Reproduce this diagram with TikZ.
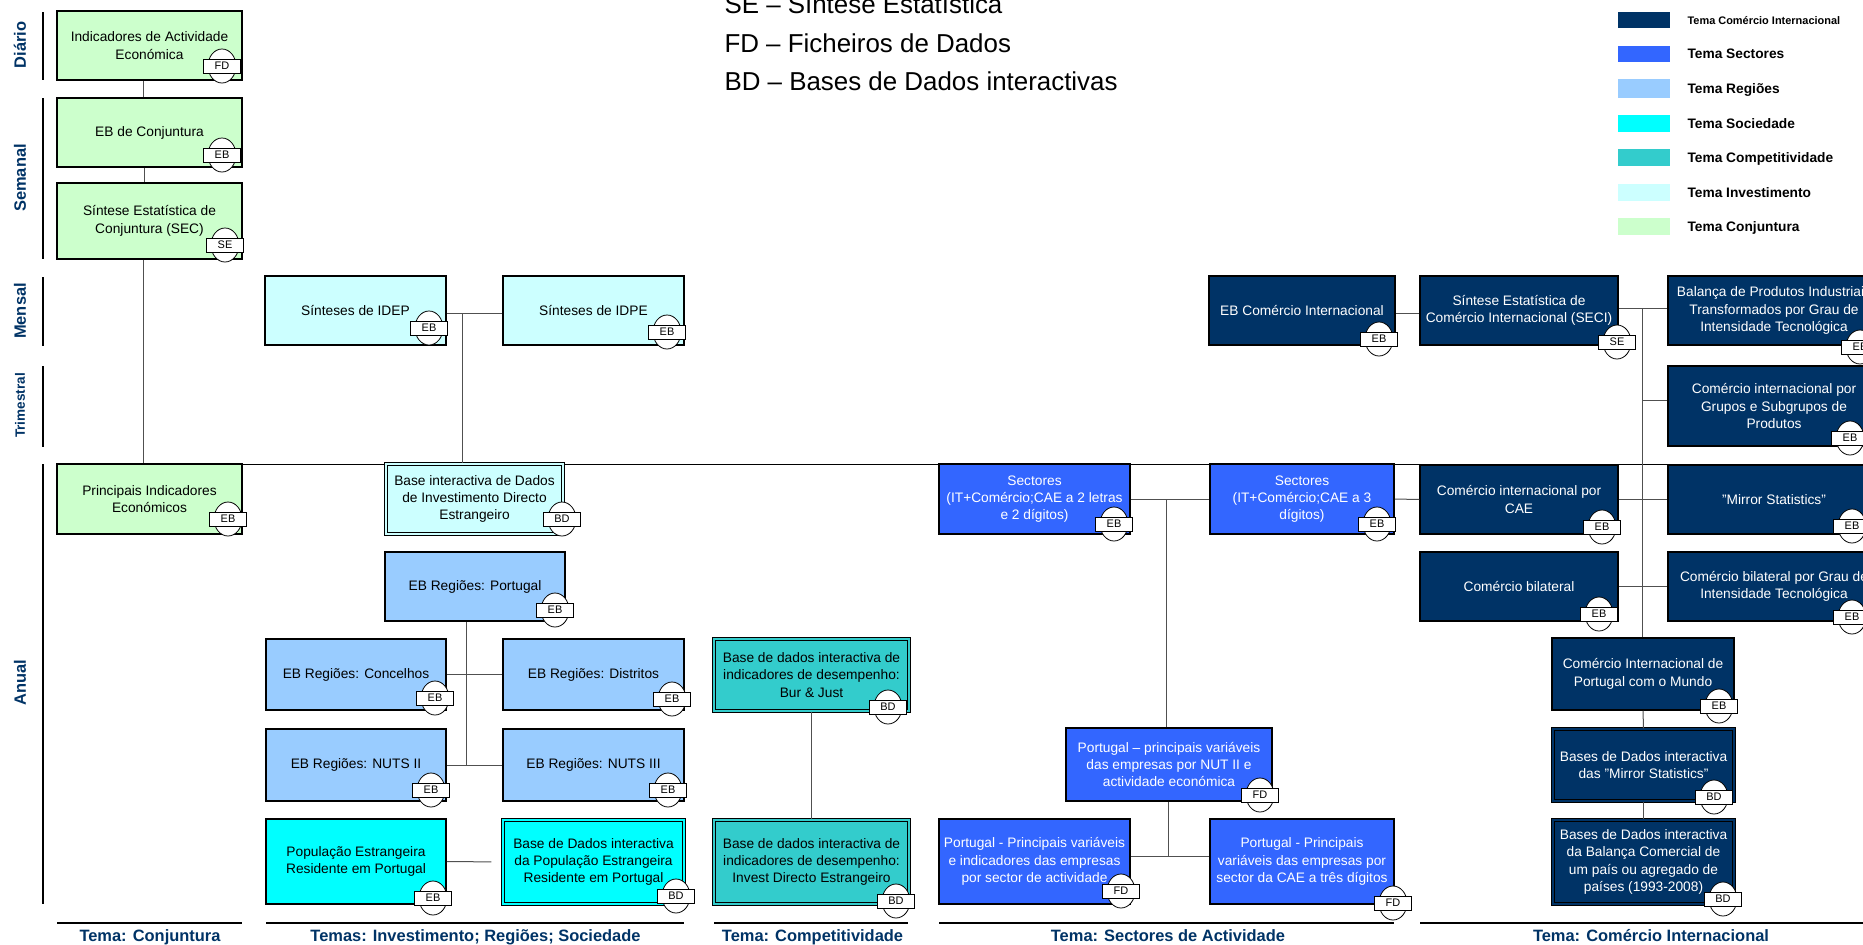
\documentclass[tikz,border=0pt]{standalone}
\usepackage{fontspec}
\setmainfont{Liberation Sans}
\usetikzlibrary{shapes.geometric,calc}
\definecolor{cic}{HTML}{003366}
\definecolor{sectc}{HTML}{3366FF}
\definecolor{regc}{HTML}{99CCFF}
\definecolor{socc}{HTML}{00FFFF}
\definecolor{compc}{HTML}{33CCCC}
\definecolor{invc}{HTML}{CCFFFF}
\definecolor{cjc}{HTML}{CCFFCC}
\definecolor{lblc}{HTML}{003366}
\definecolor{connc}{HTML}{505050}
\newcommand\badge[3]{\node[bell] at (#1) {};\node[btag] (#2) at (#1) {#3};}
\begin{document}
\begin{tikzpicture}[x=1bp,y=-1bp,
  box/.style={draw=black, line width=1.5bp, align=center, inner sep=0pt, font=\fontsize{13.8}{17.4}\selectfont},
  dbox/.style={box, line width=1.1bp, double=#1, double distance=2.2bp, fill=#1},
  wt/.style={text=white},
  conn/.style={draw=connc, line width=1bp},
  divline/.style={draw=black, line width=1bp},
  freqline/.style={draw=black, line width=1.2bp},
  baseline/.style={draw=black, line width=1.6bp},
  freqlbl/.style={rotate=90, text=lblc, font=\bfseries\fontsize{16.5}{16.5}\selectfont},
  temalbl/.style={anchor=base, text=lblc, font=\bfseries\fontsize{16.5}{16.5}\selectfont},
  bell/.style={ellipse, draw=black, fill=white, line width=0.8bp, minimum width=28bp, minimum height=34bp, inner sep=0pt},
  btag/.style={rectangle, draw=black, fill=white, line width=0.8bp, minimum width=37bp, minimum height=14bp, inner sep=0pt, font=\fontsize{11}{11}\selectfont},
  swatch/.style={draw=none},
  leglbl/.style={anchor=base west, font=\bfseries\fontsize{13.8}{13.8}\selectfont},
  abbr/.style={anchor=base west, font=\fontsize{26}{26}\selectfont}
]
\useasboundingbox (0,0) rectangle (1863,944);
\clip (0,0) rectangle (1863,944);
\fill[white] (0,0) rectangle (1863,944);

% divider between Trimestral and Anual
\draw[divline] (242,464) -- (1863,464);

% frequency lines and labels
\draw[freqline] (43,12) -- (43,80);
\draw[freqline] (43,98) -- (43,259);
\draw[freqline] (43,277) -- (43,346);
\draw[freqline] (43,366) -- (43,447);
\draw[freqline] (43,464) -- (43,904);
\node[freqlbl] (fD) at (20,45) {Diário};
\node[freqlbl] (fS) at (20,178) {Semanal};
\node[freqlbl] (fM) at (20,311) {Mensal};
\node[freqlbl, font=\bfseries\fontsize{13.6}{13.6}\selectfont] (fT) at (20,405.5) {Trimestral};
\node[freqlbl] (fA) at (20,683) {Anual};

% abbreviations legend
\node[abbr] (aSE) at (721,13) {SE – Síntese Estatística};
\node[abbr] (aFD) at (721,52) {FD – Ficheiros de Dados};
\node[abbr] (aBD) at (721,90) {BD – Bases de Dados interactivas};

% colour legend
\fill[cic]   (1618,12) rectangle (1670,28);
\fill[sectc] (1618,46) rectangle (1670,62);
\fill[regc]  (1618,79) rectangle (1670,98);
\fill[socc]  (1618,115) rectangle (1670,132);
\fill[compc] (1618,149) rectangle (1670,166);
\fill[invc]  (1618,184) rectangle (1670,201);
\fill[cjc]   (1618,218) rectangle (1670,235);
\node[leglbl, font=\bfseries\fontsize{11}{11}\selectfont] (l1) at (1684,24) {Tema Comércio Internacional};
\node[leglbl] (l2) at (1684,58.5) {Tema Sectores};
\node[leglbl] (l3) at (1684,93) {Tema Regiões};
\node[leglbl] (l4) at (1684,128) {Tema Sociedade};
\node[leglbl] (l5) at (1684,162) {Tema Competitividade};
\node[leglbl] (l6) at (1684,197) {Tema Investimento};
\node[leglbl] (l7) at (1684,231) {Tema Conjuntura};

% ---- Conjuntura
\node[box, fill=cjc, minimum width=185bp, minimum height=69bp] (ind) at (149.5,45.5) {Indicadores de Actividade\\Económica};
\node[box, fill=cjc, minimum width=185bp, minimum height=69bp] (ebc) at (149.5,132.5) {EB de Conjuntura};
\node[box, fill=cjc, minimum width=185bp, minimum height=76bp] (sec) at (149.5,221) {Síntese Estatística de\\Conjuntura (SEC)};
\node[box, fill=cjc, minimum width=185bp, minimum height=70bp] (pie) at (149.5,499) {Principais Indicadores\\Económicos};

% ---- Investimento / Regiões / Sociedade
\node[box, fill=invc, minimum width=181bp, minimum height=69bp] (idep) at (355.5,310.5) {Sínteses de IDEP};
\node[box, fill=invc, minimum width=181bp, minimum height=69bp] (idpe) at (593.5,310.5) {Sínteses de IDPE};
\node[dbox=invc, minimum width=177bp, minimum height=70bp] (bidde) at (474.5,499) {Base interactiva de Dados\\de Investimento Directo\\Estrangeiro};
\node[box, fill=regc, minimum width=180bp, minimum height=69bp] (regpt) at (475,586.5) {EB Regiões: Portugal};
\node[box, fill=regc, minimum width=180bp, minimum height=71bp] (conc) at (356,674.5) {EB Regiões: Concelhos};
\node[box, fill=regc, minimum width=181bp, minimum height=71bp] (dist) at (593.5,674.5) {EB Regiões: Distritos};
\node[box, fill=regc, minimum width=180bp, minimum height=72bp] (nuts2) at (356,765) {EB Regiões: NUTS II};
\node[box, fill=regc, minimum width=181bp, minimum height=72bp] (nuts3) at (593.5,765) {EB Regiões: NUTS III};
\node[box, fill=socc, minimum width=180bp, minimum height=85bp] (pop) at (356,861.5) {População Estrangeira\\Residente em Portugal};
\node[dbox=socc, minimum width=181bp, minimum height=84bp] (bdpop) at (593.5,862) {Base de Dados interactiva\\da População Estrangeira\\Residente em Portugal};

% ---- Competitividade
\node[dbox=compc, minimum width=195bp, minimum height=72bp] (bur) at (811.5,675) {Base de dados interactiva de\\indicadores de desempenho:\\Bur \& Just};
\node[dbox=compc, minimum width=195bp, minimum height=84bp] (ide) at (811.5,862) {Base de dados interactiva de\\indicadores de desempenho:\\Invest Directo Estrangeiro};

% ---- Sectores
\node[box, wt, fill=sectc, minimum width=191bp, minimum height=70bp] (sect1) at (1034.5,499) {Sectores\\(IT+Comércio;CAE a 2 letras\\e 2 dígitos)};
\node[box, wt, fill=sectc, minimum width=184bp, minimum height=70bp] (sect2) at (1302,499) {Sectores\\(IT+Comércio;CAE a 3\\dígitos)};
\node[box, wt, fill=sectc, minimum width=206bp, minimum height=73bp] (nut) at (1169,764.5) {Portugal – principais variáveis\\das empresas por NUT II e\\actividade económica};
\node[box, wt, fill=sectc, minimum width=191bp, minimum height=85bp] (pvi) at (1034.5,861.5) {Portugal - Principais variáveis\\e indicadores das empresas\\por sector de actividade};
\node[box, wt, fill=sectc, minimum width=184bp, minimum height=85bp] (cae3) at (1302,861.5) {Portugal - Principais\\variáveis das empresas por\\sector da CAE a três dígitos};

% ---- Comércio Internacional
\node[box, wt, fill=cic, minimum width=186bp, minimum height=69bp] (ebci) at (1302,310.5) {EB Comércio Internacional};
\node[box, wt, fill=cic, minimum width=198bp, minimum height=69bp] (seci) at (1519,310.5) {Síntese Estatística de\\Comércio Internacional (SECI)};
\node[box, wt, fill=cic, minimum width=198bp, minimum height=69bp] (cae) at (1519,499.5) {Comércio internacional por\\CAE};
\node[box, wt, fill=cic, minimum width=198bp, minimum height=69bp] (bil) at (1519,586.5) {Comércio bilateral};
\node[box, wt, fill=cic, minimum width=212bp, minimum height=69bp] (balanca) at (1774,310.5) {Balança de Produtos Industriais\\Transformados por Grau de\\Intensidade Tecnológica};
\node[box, wt, fill=cic, minimum width=212bp, minimum height=80bp] (grupos) at (1774,406) {Comércio internacional por\\Grupos e Subgrupos de\\Produtos};
\node[box, wt, fill=cic, minimum width=212bp, minimum height=69bp] (mirror) at (1774,499.5) {"Mirror Statistics"};
\node[box, wt, fill=cic, minimum width=212bp, minimum height=69bp] (bilgrau) at (1774,586.5) {Comércio bilateral por Grau de\\Intensidade Tecnológica};
\node[box, wt, fill=cic, minimum width=182bp, minimum height=72bp] (mundo) at (1643,674) {Comércio Internacional de\\Portugal com o Mundo};
\node[dbox=cic, wt, minimum width=181bp, minimum height=72bp] (mirbd) at (1643.5,765) {Bases de Dados interactiva\\das "Mirror Statistics"};
\node[dbox=cic, wt, minimum width=181bp, minimum height=84bp] (balbd) at (1643.5,862) {Bases de Dados interactiva\\da Balança Comercial de\\um país ou agregado de\\países (1993-2008)};

% ---- connectors
\draw[conn] ([xshift=-6.5bp]ind.south) -- ([xshift=-6.5bp]ebc.north);
\draw[conn] ([xshift=-5.5bp]ebc.south) -- ([xshift=-5.5bp]sec.north);
\draw[conn] ([xshift=-6.5bp]sec.south) -- ([xshift=-6.5bp]pie.north);

\coordinate (jA) at (462,313);
\draw[conn] ([yshift=-2.5bp]idep.east) -- ([yshift=-2.5bp]idpe.west);
\draw[conn] (jA) -- (jA |- bidde.north);

\coordinate (jB) at (466.5,765);
\draw[conn] (jB |- regpt.south) -- (jB);
\draw[conn] (conc.east) -- (dist.west);
\draw[conn] (nuts2.east) -- (nuts3.west);
\draw[conn, shorten >=11bp] (pop.east) -- (bdpop.west);
\draw[conn] (bur.south) -- (ide.north);

\draw[conn] ([yshift=-2.5bp]ebci.east) -- ([yshift=-2.5bp]seci.west);
\draw[conn] (sect1.east) -- (sect2.west);
\coordinate (jC) at (1166,499);
\draw[conn] (jC) -- (jC |- nut.north);
\draw[conn] (sect2.east) -- (cae.west);
\coordinate (jD) at (1168,856);
\draw[conn] (nut.south -| jD) -- (jD);
\draw[conn] (pvi.east |- jD) -- (cae3.west |- jD);

\coordinate (jE) at (1642,308);
\coordinate (jF) at (1642,400);
\draw[conn] (seci.east |- jE) -- (balanca.west |- jE);
\draw[conn] (jE) -- (jE |- mundo.north);
\draw[conn] (jF) -- (grupos.west |- jF);
\draw[conn] (cae.east) -- (mirror.west);
\draw[conn] (bil.east) -- (bilgrau.west);
\draw[conn] (mundo.south) -- (mirbd.north);
\draw[conn] (mirbd.south) -- (balbd.north);

% ---- badges
\badge{222,66}{b1}{FD}
\badge{222,155}{b2}{EB}
\badge{225,245}{b3}{SE}
\badge{228,519}{b4}{EB}
\badge{429,328}{b5}{EB}
\badge{667,332}{b6}{EB}
\badge{562,519}{b7}{BD}
\badge{555,610}{b8}{EB}
\badge{435,698}{b9}{EB}
\badge{672,699}{b10}{EB}
\badge{431,790}{b11}{EB}
\badge{668,790}{b12}{EB}
\badge{433,898}{b13}{EB}
\badge{676,896}{b14}{BD}
\badge{888,707}{b15}{BD}
\badge{896,901}{b16}{BD}
\badge{1379,339}{b17}{EB}
\badge{1114,524}{b18}{EB}
\badge{1377,524}{b19}{EB}
\badge{1260,795}{b20}{FD}
\badge{1121,891}{b21}{FD}
\badge{1393,903}{b22}{FD}
\badge{1617,342}{b23}{SE}
\badge{1602,527}{b24}{EB}
\badge{1599,614}{b25}{EB}
\badge{1719,706}{b26}{EB}
\badge{1714,797}{b27}{BD}
\badge{1723,899}{b28}{BD}
\badge{1860,347}{b29}{EB}
\badge{1850,438}{b30}{EB}
\badge{1852,526}{b31}{EB}
\badge{1852,617}{b32}{EB}

% ---- theme base lines and labels
\draw[baseline] (57,923) -- (242,923);
\draw[baseline] (266,923) -- (684,923);
\draw[baseline] (714,923) -- (908,923);
\draw[baseline] (939,923) -- (1394,923);
\draw[baseline] (1420,923) -- (1863,923);
\node[temalbl] (t1) at (150,941) {Tema: Conjuntura};
\node[temalbl] (t2) at (475.5,941) {Temas: Investimento; Regiões; Sociedade};
\node[temalbl] (t3) at (812.5,941) {Tema: Competitividade};
\node[temalbl] (t4) at (1168,941) {Tema: Sectores de Actividade};
\node[temalbl] (t5) at (1651,941) {Tema: Comércio Internacional};
\end{tikzpicture}
\end{document}
